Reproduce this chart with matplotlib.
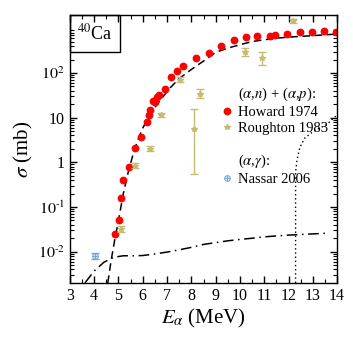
import matplotlib
matplotlib.use('Agg')
import matplotlib.pyplot as plt
from matplotlib.lines import Line2D
from matplotlib.patches import Rectangle
from matplotlib.legend_handler import HandlerTuple
from matplotlib.ticker import FixedLocator, FixedFormatter, LogLocator, MultipleLocator, NullFormatter
import numpy as np

plt.rcParams['font.family'] = ['Liberation Serif', 'DejaVu Serif']
plt.rcParams['mathtext.fontset'] = 'stix'

# Howard 1974, (a,n)+(a,p)
howard_e = [4.85, 5.02, 5.10, 5.18, 5.43, 5.67, 5.92, 6.17, 6.25, 6.29, 6.42, 6.50, 6.58, 6.66,
            6.91, 7.16, 7.40, 7.65, 8.19, 8.72, 9.21, 9.75, 10.24, 10.70, 11.23, 11.44, 11.93,
            12.47, 12.96, 13.45, 13.95]
howard_s = [0.025, 0.052, 0.16, 0.41, 0.79, 2.1, 3.7, 8.0, 11.5, 14.9, 23.5, 22, 29, 32,
            44, 81, 110, 143, 216, 280, 400, 545, 640, 670, 670, 705, 745,
            830, 830, 870, 830]

# Roughton 1983
rough_e = [5.10, 5.67, 6.29, 6.74, 7.53, 8.10, 8.35, 10.20, 10.90, 12.18]
rough_s = [0.032, 0.83, 2.0, 11.5, 70, 5.6, 34, 295, 215, 1450]
rough_lo = [0.028, 0.73, 1.75, 10.2, 62, 0.55, 27, 245, 150, 1300]
rough_hi = [0.037, 0.95, 2.3, 13, 80, 15.5, 43, 355, 300, 1620]

# Nassar 2006, (a,g)
nassar_e = [4.03]
nassar_s = [0.0081]
nassar_lo = [0.0070]
nassar_hi = [0.0093]

# theory curves
tot_e = [4.56, 4.7, 4.85, 5.0, 5.2, 5.4, 5.6, 5.8, 6.0, 6.2, 6.5, 6.8, 7.1, 7.5, 8.0, 8.5,
         9.0, 9.5, 10.0, 10.5, 11.0, 11.5, 12.0, 12.5, 13.0, 13.5, 14.0]
tot_s = [0.002, 0.0065, 0.019, 0.05, 0.2, 0.6, 1.5, 3.2, 5.8, 9.5, 17, 28, 45, 75, 120, 185,
         290, 360, 430, 505, 555, 600, 635, 660, 685, 715, 745]

gam_e = [3.62, 4.0, 4.4, 4.8, 5.2, 5.6, 6.0, 6.5, 7.0, 7.5, 8.0, 8.5, 9.0, 9.5, 10.0,
         10.5, 11.0, 11.5, 12.0, 12.5, 13.0, 13.6]
gam_s = [0.002, 0.0037, 0.0058, 0.0075, 0.0081, 0.0081, 0.0082, 0.0089, 0.0098, 0.011,
         0.0125, 0.0145, 0.016, 0.0175, 0.0188, 0.020, 0.0215, 0.0225, 0.0235, 0.0243,
         0.025, 0.026]

dot_e = [12.29, 12.29, 12.35, 12.47, 12.67, 12.95, 13.29, 13.56, 13.77, 14.0]
dot_s = [0.002, 0.6, 1.14, 2.2, 3.5, 4.6, 5.9, 6.9, 8.9, 11.5]

ytick_vals = [0.01, 0.1, 1, 10, 100]
ytick_text = [r'$10^{\text{-}2}$', r'$10^{\text{-}1}$', '1', '10', r'$10^2$']

red = '#ff0000'
khaki = '#c4bc72'
blue = '#7aa6d6'

fig = plt.figure(figsize=(3.53, 3.38), dpi=100)
ax = fig.add_axes([0.198, 0.163, 0.757, 0.793])

ax.plot(tot_e, tot_s, color='black', ls=(0, (5, 3)), lw=1.1)
ax.plot(gam_e, gam_s, color='black', ls=(0, (7, 3, 1, 3)), lw=1.1)
ax.plot(dot_e, dot_s, color='black', ls=(0, (1, 2)), lw=1.0)

ax.plot(howard_e, howard_s, 'o', color=red, ms=4.6, mec=red)

r_err = [np.array(rough_s) - np.array(rough_lo), np.array(rough_hi) - np.array(rough_s)]
ax.errorbar(rough_e, rough_s, yerr=r_err, fmt='*', color=khaki, ms=4, capsize=3,
            elinewidth=1, capthick=1)
n_err = [np.array(nassar_s) - np.array(nassar_lo), np.array(nassar_hi) - np.array(nassar_s)]
ax.errorbar(nassar_e, nassar_s, yerr=n_err, fmt='none', ecolor=blue, capsize=3,
            elinewidth=1, capthick=1)
ax.plot(nassar_e, nassar_s, 'o', mfc='none', mec=blue, ms=4, mew=0.8, ls='none')
ax.plot(nassar_e, nassar_s, '+', color=blue, ms=4, mew=0.8, ls='none')

ax.set_yscale('log')
ax.set_xlim(3, 14)
ax.set_ylim(0.002, 2000)

ax.xaxis.set_major_locator(MultipleLocator(1))
ax.xaxis.set_minor_locator(MultipleLocator(0.5))
ax.yaxis.set_major_locator(FixedLocator(ytick_vals))
ax.yaxis.set_major_formatter(FixedFormatter(ytick_text))
ax.yaxis.set_minor_locator(LogLocator(base=10, subs=np.arange(2, 10)))
ax.yaxis.set_minor_formatter(NullFormatter())
ax.tick_params(which='both', direction='in', top=True, right=True, labelsize=11.5)
ax.tick_params(which='major', length=5, width=1)
ax.tick_params(which='minor', length=3, width=0.8)
for s in ax.spines.values():
    s.set_linewidth(1)

ax.set_xlabel(r'$E_\alpha$ (MeV)', fontsize=15, labelpad=2)
ax.set_ylabel(r'$\sigma$ (mb)', fontsize=15, labelpad=2)

ax.add_patch(Rectangle((0, 1 - 0.138), 0.187, 0.138, transform=ax.transAxes,
                       fill=False, lw=1, ec='black', clip_on=False))
ax.text(0.0935, 1 - 0.069, r'$^{40}$Ca', transform=ax.transAxes, ha='center',
        va='center', fontsize=13)

blank = Line2D([], [], ls='none')
nassar_h = (Line2D([], [], ls='none', marker='o', mfc='none', mec=blue, ms=4, mew=0.8),
            Line2D([], [], ls='none', marker='+', color=blue, ms=4, mew=0.8))
handles = [blank,
           Line2D([], [], ls='none', marker='o', color=red, ms=4.6),
           Line2D([], [], ls='none', marker='*', color=khaki, ms=4),
           blank, blank,
           nassar_h]
labels = [r'($\alpha$,$n$) + ($\alpha$,$p$):', 'Howard 1974', 'Roughton 1983', ' ',
          r'($\alpha$,$\gamma$):', 'Nassar 2006']
ax.legend(handles, labels, loc='upper left', bbox_to_anchor=(0.565, 0.735), frameon=False,
          fontsize=10.5, handlelength=0.8, handletextpad=0.4, labelspacing=0.17,
          borderpad=0, borderaxespad=0,
          handler_map={tuple: HandlerTuple(ndivide=1, pad=0)})

fig.savefig('out.png', dpi=100)
